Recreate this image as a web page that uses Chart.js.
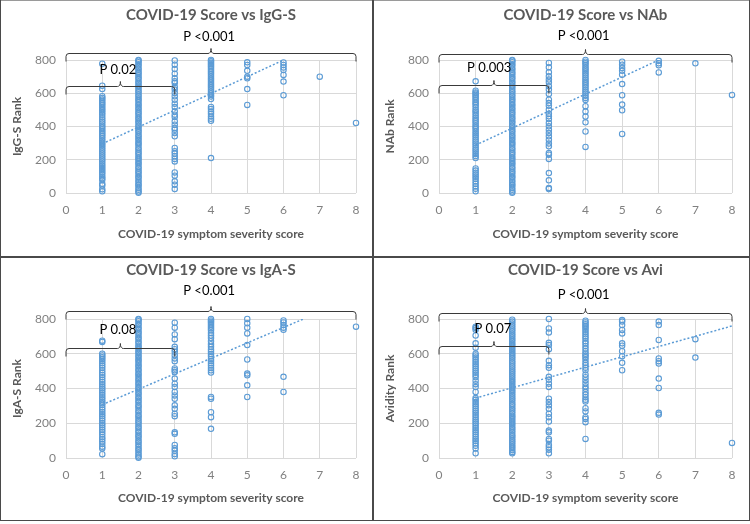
<!DOCTYPE html>
<html>
<head>
<meta charset="utf-8">
<script src="https://cdn.jsdelivr.net/npm/chart.js@4.4.1/dist/chart.umd.min.js"></script>
<style>
  body { margin: 0; background: #fff; }
  #wrap { position: relative; width: 750px; height: 524px; }
  #wrap canvas { position: absolute; }
  .rule { position: absolute; background: #4a4a4a; }
</style>
</head>
<body>
<div id="wrap">
  <canvas id="iggChart" width="371" height="256" style="left:1px;top:0"></canvas>
  <canvas id="nabChart" width="375" height="256" style="left:374px;top:0"></canvas>
  <canvas id="igaChart" width="371" height="262" style="left:1px;top:258px"></canvas>
  <canvas id="aviChart" width="375" height="262" style="left:374px;top:258px"></canvas>
  <div class="rule" style="left:0;top:0;width:750px;height:1px;background:#9a9a9a"></div>
  <div class="rule" style="left:0;top:0;width:1px;height:521px"></div>
  <div class="rule" style="left:749px;top:0;width:1px;height:521px"></div>
  <div class="rule" style="left:0;top:520px;width:750px;height:1px"></div>
  <div class="rule" style="left:372px;top:0;width:2px;height:521px"></div>
  <div class="rule" style="left:0;top:256px;width:750px;height:2px"></div>
</div>
<script>
// ranks per symptom score (index = score 0..8)
const denseRanks = [2, 9, 20, 31, 45, 53, 66, 77, 91, 100, 113, 125, 134, 148, 157, 171, 180, 193, 205, 214,
  227, 239, 248, 262, 271, 285, 296, 305, 319, 329, 342, 351, 365, 374, 387, 399, 408, 422, 431, 445,
  454, 467, 479, 488, 502, 511, 525, 534, 547, 559, 568, 582, 591, 605, 614, 627, 639, 648, 662, 671,
  685, 694, 707, 719, 728, 742, 751, 765, 774, 787, 796, 800];

const aviDenseRanks = [27, 35, 46, 58, 67, 79, 90, 101, 112, 124, 133, 146, 157, 168, 179, 191, 202, 213, 224, 236,
  245, 258, 269, 280, 291, 303, 312, 325, 336, 347, 358, 370, 381, 392, 403, 414, 426, 437, 448, 459,
  471, 482, 493, 504, 515, 527, 538, 549, 560, 572, 583, 594, 605, 616, 628, 639, 650, 661, 673, 684,
  695, 706, 717, 729, 740, 751, 762, 774, 785, 796];

const iggRanks = [
  [],
  [778, 645, 625, 582, 572, 562, 550, 540, 530, 518, 505, 495, 482, 470, 456, 442, 430, 418, 405, 395, 384, 373,
    362, 352, 342, 330, 318, 306, 295, 284, 272, 260, 248, 236, 224, 212, 200, 188, 175, 163, 150, 138, 126, 114,
    100, 88, 78, 55, 45, 22, 10],
  denseRanks,
  [797, 772, 746, 718, 690, 672, 662, 638, 622, 602, 582, 561, 537, 517, 491, 471, 457, 431, 411, 391, 381, 361,
    341, 271, 251, 237, 221, 205, 190, 124, 104, 70, 50, 24],
  [800, 792, 783, 774, 765, 756, 746, 736, 725, 714, 702, 690, 680, 668, 656, 645, 634, 622, 610, 600, 590, 580,
    565, 518, 505, 490, 476, 460, 446, 434, 210],
  [786, 770, 735, 700, 690, 625, 530],
  [785, 770, 755, 740, 710, 670, 588],
  [700],
  [421]
];

const nabRanks = [
  [],
  [672, 615, 605, 598, 590, 580, 570, 560, 548, 538, 528, 515, 500, 490, 478, 465, 452, 440, 430, 418, 405, 395,
    385, 372, 360, 348, 335, 322, 310, 298, 285, 272, 260, 248, 235, 222, 210, 148, 135, 122, 110, 98, 85, 70, 55,
    40, 25, 10],
  denseRanks,
  [782, 756, 726, 702, 682, 666, 642, 622, 596, 561, 541, 525, 501, 477, 461, 445, 421, 401, 381, 361, 341, 321,
    297, 281, 240, 230, 205, 120, 76, 30, 24],
  [800, 790, 780, 768, 755, 745, 732, 720, 708, 695, 682, 670, 660, 648, 636, 622, 610, 598, 585, 572, 560, 522,
    490, 460, 425, 370, 277],
  [790, 772, 752, 735, 712, 655, 588, 532, 497, 355],
  [795, 780, 768, 725],
  [780],
  [590]
];

const igaRanks = [
  [],
  [675, 668, 600, 590, 580, 570, 558, 545, 532, 520, 505, 490, 478, 465, 450, 438, 425, 412, 400, 388, 375, 362,
    350, 338, 325, 315, 305, 290, 278, 265, 252, 240, 228, 215, 200, 188, 175, 162, 150, 135, 120, 108, 95, 80,
    65, 55, 22],
  denseRanks,
  [779, 750, 711, 684, 640, 626, 611, 592, 573, 557, 515, 505, 495, 457, 428, 409, 380, 360, 341, 303, 283, 254,
    241, 148, 139, 75, 56, 42, 23, 10],
  [800, 792, 784, 775, 765, 755, 745, 735, 720, 705, 690, 672, 655, 640, 625, 612, 598, 585, 570, 558, 545, 532,
    518, 505, 492, 351, 341, 264, 235, 168],
  [800, 775, 750, 717, 650, 567, 486, 476, 418, 351],
  [792, 780, 765, 750, 738, 467, 380],
  [],
  [756]
];

const aviRanks = [
  [],
  [756, 748, 738, 705, 660, 635, 600, 590, 578, 565, 552, 540, 528, 515, 502, 490, 478, 465, 445, 425, 408, 380,
    345, 335, 322, 310, 298, 285, 272, 260, 248, 235, 222, 210, 198, 185, 172, 160, 148, 135, 122, 110, 98, 85,
    70, 55, 27],
  aviDenseRanks,
  [800, 746, 723, 663, 650, 626, 559, 534, 519, 467, 451, 428, 409, 341, 322, 303, 283, 254, 235, 210, 158, 148,
    110, 100, 75, 62, 48, 27],
  [790, 780, 770, 760, 750, 738, 725, 712, 700, 688, 672, 660, 645, 630, 615, 600, 590, 580, 565, 548, 535, 520,
    505, 480, 465, 448, 430, 412, 398, 380, 365, 350, 335, 325, 287, 268, 235, 225, 206, 110],
  [794, 785, 765, 737, 717, 660, 646, 615, 586, 548, 505],
  [785, 765, 679, 573, 557, 544, 457, 403, 260, 250],
  [684, 578],
  [87]
];

// linear trendline end points [score, rank]
const iggTrend = [[1, 296], [6, 800]];
const nabTrend = [[1, 288], [6, 800]];
const igaTrend = [[1, 307], [6.55, 800]];
const aviTrend = [[1, 345], [8, 760]];

const titles = ['COVID-19 Score vs IgG-S', 'COVID-19 Score vs NAb', 'COVID-19 Score vs IgA-S', 'COVID-19 Score vs Avi'];
const yTitles = ['IgG-S Rank', 'NAb Rank', 'IgA-S Rank', 'Avidity Rank'];
const xTitle = 'COVID-19 symptom severity score';
const pAll = ['P <0.001', 'P <0.001', 'P <0.001', 'P <0.001'];
const pMild = ['P 0.02', 'P 0.003', 'P 0.08', 'P 0.07'];

const BLUE = '#5b9bd5';
Chart.defaults.font.family = 'Lato, "Open Sans", sans-serif';

// draws the curly significance brackets with their P labels
function bracketPlugin(items) {
  return {
    id: 'pBrackets',
    afterDatasetsDraw(chart) {
      const { ctx, scales: { x, y } } = chart;
      ctx.save();
      ctx.strokeStyle = '#3a3a3a';
      ctx.lineWidth = 1;
      items.forEach(b => {
        const x0 = x.getPixelForValue(b.from);
        const x1 = x.getPixelForValue(b.to);
        const xm = x.getPixelForValue(b.tip);
        const yl = Math.round(y.getPixelForValue(b.at)) + 0.5;
        const hook = 8, r = 3, peak = 5;
        ctx.beginPath();
        ctx.moveTo(x0, yl + hook);
        ctx.lineTo(x0, yl + r);
        ctx.quadraticCurveTo(x0, yl, x0 + r, yl);
        ctx.lineTo(xm - r, yl);
        ctx.quadraticCurveTo(xm, yl, xm, yl - peak);
        ctx.quadraticCurveTo(xm, yl, xm + r, yl);
        ctx.lineTo(x1 - r, yl);
        ctx.quadraticCurveTo(x1, yl, x1, yl + r);
        ctx.lineTo(x1, yl + hook);
        ctx.stroke();
        ctx.fillStyle = '#000';
        ctx.font = '13px Lato, sans-serif';
        ctx.textAlign = 'center';
        ctx.textBaseline = 'middle';
        ctx.fillText(b.label, x.getPixelForValue(b.labelX), y.getPixelForValue(b.labelAt));
      });
      ctx.restore();
    }
  };
}

function makePanel(id, i, ranks, trend, layout, brackets) {
  const points = [];
  ranks.forEach((list, score) => list.forEach(r => points.push({ x: score, y: r })));

  new Chart(document.getElementById(id), {
    type: 'scatter',
    data: {
      datasets: [{
        data: points,
        clip: false,
        pointStyle: 'circle',
        pointRadius: 2.7,
        pointBorderWidth: 1.1,
        pointBorderColor: BLUE,
        pointBackgroundColor: 'rgba(0,0,0,0)'
      }, {
        type: 'line',
        data: trend.map(p => ({ x: p[0], y: p[1] })),
        borderColor: BLUE,
        borderWidth: 1.5,
        borderDash: [2, 2],
        pointRadius: 0,
        fill: false
      }]
    },
    options: {
      responsive: false,
      animation: false,
      layout: { padding: { left: 0, right: layout.padRight, top: 0, bottom: 0 } },
      plugins: {
        legend: { display: false },
        tooltip: { enabled: false },
        title: {
          display: true,
          fullSize: false,
          text: titles[i],
          color: '#595959',
          font: { size: 15, weight: 'bold' },
          padding: { top: layout.titleTop, bottom: layout.titleBottom }
        }
      },
      scales: {
        x: {
          type: 'linear',
          min: 0,
          max: 8,
          afterFit: s => { s.height = layout.xHeight; },
          grid: { color: '#d9d9d9', drawTicks: false },
          border: { display: false },
          ticks: { stepSize: 1, padding: 10, color: '#808080', font: { size: 12 } },
          title: {
            display: true,
            text: xTitle,
            color: '#595959',
            font: { size: 12, weight: 'bold' },
            padding: { top: 15, bottom: 15 }
          }
        },
        y: {
          min: 0,
          max: 800,
          afterFit: s => { s.width = layout.yWidth; },
          grid: { color: '#d9d9d9', drawTicks: false },
          border: { display: false },
          ticks: { stepSize: 200, padding: 10, color: '#808080', font: { size: 12 } },
          title: {
            display: true,
            text: yTitles[i],
            color: '#595959',
            font: { size: 12, weight: 'bold' },
            padding: { top: 9, bottom: 9 }
          }
        }
      }
    },
    plugins: [bracketPlugin(brackets)]
  });
}

document.addEventListener('DOMContentLoaded', function () {
  const topLeft = { padRight: 16, titleTop: 6, titleBottom: 36, xHeight: 63, yWidth: 65 };
  const topRight = { padRight: 17, titleTop: 6, titleBottom: 36, xHeight: 63, yWidth: 65 };
  const botLeft = { padRight: 16, titleTop: 3, titleBottom: 40, xHeight: 62, yWidth: 65 };
  const botRight = { padRight: 17, titleTop: 3, titleBottom: 40, xHeight: 62, yWidth: 65 };

  makePanel('iggChart', 0, iggRanks, iggTrend, topLeft, [
    { from: 0, to: 8, tip: 4, at: 840, label: pAll[0], labelX: 3.95, labelAt: 940 },
    { from: 0, to: 3, tip: 1.5, at: 645, label: pMild[0], labelX: 1.43, labelAt: 742 }
  ]);
  makePanel('nabChart', 1, nabRanks, nabTrend, topRight, [
    { from: 0, to: 8, tip: 4, at: 834, label: pAll[1], labelX: 3.95, labelAt: 945 },
    { from: 0, to: 3, tip: 1.5, at: 647, label: pMild[1], labelX: 1.37, labelAt: 752 }
  ]);
  makePanel('igaChart', 2, igaRanks, igaTrend, botLeft, [
    { from: 0, to: 8, tip: 4, at: 844, label: pAll[2], labelX: 3.95, labelAt: 961 },
    { from: 0, to: 3, tip: 1.5, at: 633, label: pMild[2], labelX: 1.43, labelAt: 735 }
  ]);
  makePanel('aviChart', 3, aviRanks, aviTrend, botRight, [
    { from: 0, to: 8, tip: 4, at: 836, label: pAll[3], labelX: 3.95, labelAt: 940 },
    { from: 0, to: 3, tip: 1.5, at: 645, label: pMild[3], labelX: 1.47, labelAt: 744 }
  ]);
});
</script>
</body>
</html>
